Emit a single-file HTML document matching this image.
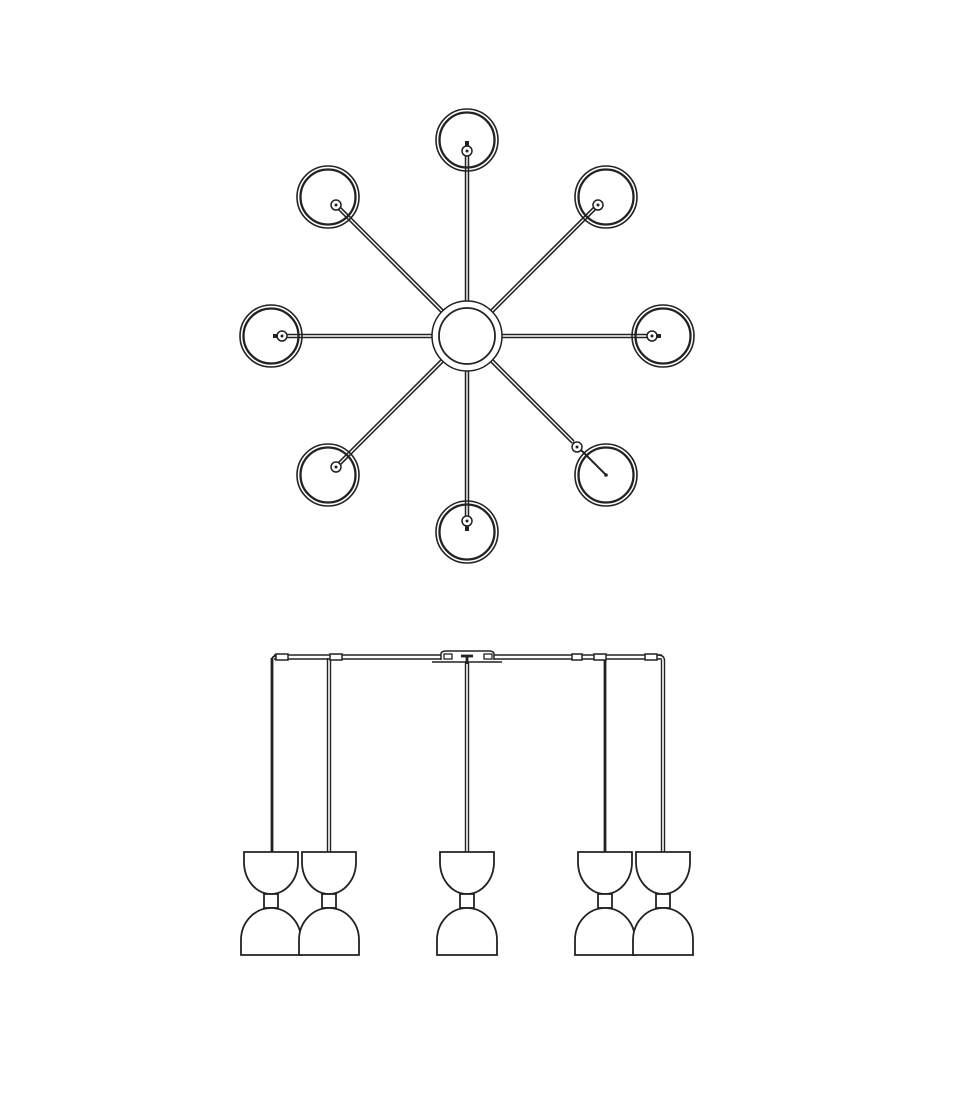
<!DOCTYPE html>
<html><head><meta charset="utf-8"><style>html,body{margin:0;padding:0;background:#fff}</style></head>
<body>
<svg width="970" height="1109" viewBox="0 0 970 1109" xmlns="http://www.w3.org/2000/svg">
<defs>
<g id="arm"><line x1="0" y1="0" x2="0" y2="-150" stroke="#222" stroke-width="4.5"/><line x1="0" y1="0" x2="0" y2="-150" stroke="#fff" stroke-width="1.4"/></g>
<g id="pend" fill="#fff" stroke="#222" stroke-width="1.8">
<path d="M-27 852 H27 V862 A27 32 0 0 1 -27 862 Z"/>
<rect x="-7" y="894" width="14" height="14"/>
<path d="M-30 955 V940 A30 32 0 0 1 30 940 V955 Z"/>
</g>
<g id="lamp" fill="none" stroke="#222">
<circle r="31" stroke-width="1.6"/><circle r="27.5" stroke-width="2.3"/>
</g>
</defs>
<g transform="translate(467,336)">
<use href="#arm" transform="rotate(0) translate(0,-35)"/>
<use href="#arm" transform="rotate(45) translate(0,-35)"/>
<use href="#arm" transform="rotate(90) translate(0,-35)"/>
<use href="#arm" transform="rotate(180) translate(0,-35)"/>
<use href="#arm" transform="rotate(225) translate(0,-35)"/>
<use href="#arm" transform="rotate(270) translate(0,-35)"/>
<use href="#arm" transform="rotate(315) translate(0,-35)"/>
<g transform="rotate(135)"><line x1="0" y1="-35" x2="0" y2="-150" stroke="#222" stroke-width="4.5"/><line x1="0" y1="-35" x2="0" y2="-150" stroke="#fff" stroke-width="1.4"/><line x1="0" y1="-150" x2="0" y2="-196" stroke="#222" stroke-width="2"/></g>
<circle r="35" fill="#fff" stroke="#222" stroke-width="1.5"/>
<circle r="28" fill="#fff" stroke="#222" stroke-width="1.8"/>
</g>
<use href="#lamp" x="467" y="140"/><use href="#lamp" x="606" y="197"/><use href="#lamp" x="663" y="336"/>
<use href="#lamp" x="606" y="475"/><use href="#lamp" x="467" y="532"/><use href="#lamp" x="328" y="475"/>
<use href="#lamp" x="271" y="336"/><use href="#lamp" x="328" y="197"/>
<g fill="#fff" stroke="#222" stroke-width="1.5">
<circle cx="467" cy="151" r="5"/><circle cx="598" cy="205" r="5"/><circle cx="652" cy="336" r="5"/>
<circle cx="467" cy="521" r="5"/><circle cx="336" cy="467" r="5"/><circle cx="282" cy="336" r="5"/>
<circle cx="336" cy="205" r="5"/><circle cx="577" cy="447" r="5"/>
</g>
<g fill="#222">
<circle cx="467" cy="151" r="1.5"/><circle cx="598" cy="205" r="1.5"/><circle cx="652" cy="336" r="1.5"/>
<circle cx="467" cy="521" r="1.5"/><circle cx="336" cy="467" r="1.5"/><circle cx="282" cy="336" r="1.5"/>
<circle cx="336" cy="205" r="1.5"/><circle cx="577" cy="447" r="1.5"/><circle cx="606" cy="475" r="1.8"/>
<rect x="465" y="141" width="4" height="5"/><rect x="656" y="334" width="5" height="4"/><rect x="273" y="334" width="5" height="4"/>
<rect x="465" y="526" width="4" height="5"/>
</g>
<!-- side view -->
<g stroke="#222" fill="none">
<line x1="274" y1="655" x2="662" y2="655" stroke-width="1.4"/>
<line x1="274" y1="659" x2="662" y2="659" stroke-width="1.4"/>
<path d="M272 660 Q272 656 276 656" stroke-width="1.7"/>
<line x1="272" y1="658" x2="272" y2="852" stroke-width="2.8"/>
<line x1="327.5" y1="658" x2="327.5" y2="852" stroke-width="1.4"/><line x1="330.5" y1="658" x2="330.5" y2="852" stroke-width="1.4"/>
<line x1="465.5" y1="662" x2="465.5" y2="852" stroke-width="1.4"/><line x1="468.5" y1="662" x2="468.5" y2="852" stroke-width="1.4"/>
<line x1="605" y1="658" x2="605" y2="852" stroke-width="2.8"/>
<line x1="661.5" y1="660" x2="661.5" y2="852" stroke-width="1.4"/><line x1="664.5" y1="660" x2="664.5" y2="852" stroke-width="1.4"/>
<path d="M658 655 Q664.5 655 664.5 661" stroke-width="1.4"/>
<g fill="#fff" stroke-width="1.5">
<rect x="276" y="654" width="12" height="6"/><rect x="330" y="654" width="12" height="6"/>
<rect x="572" y="654" width="10" height="6"/><rect x="594" y="654" width="12" height="6"/>
<rect x="645" y="654" width="12" height="6"/>
<path d="M441 660 V654 Q441 651 446 651 H489 Q494 651 494 654 V660"/>
</g>
<line x1="432" y1="662" x2="502" y2="662" stroke-width="1.5"/>
<line x1="461" y1="656" x2="473" y2="656" stroke-width="2.8"/>
<line x1="467" y1="656" x2="467" y2="664" stroke-width="2.8"/>
<rect x="444" y="654" width="8" height="5" fill="#fff" stroke-width="1.3"/>
<rect x="484" y="654" width="8" height="5" fill="#fff" stroke-width="1.3"/>
</g>
<use href="#pend" x="271"/><use href="#pend" x="329"/><use href="#pend" x="467"/><use href="#pend" x="605"/><use href="#pend" x="663"/>
</svg>
</body></html>
